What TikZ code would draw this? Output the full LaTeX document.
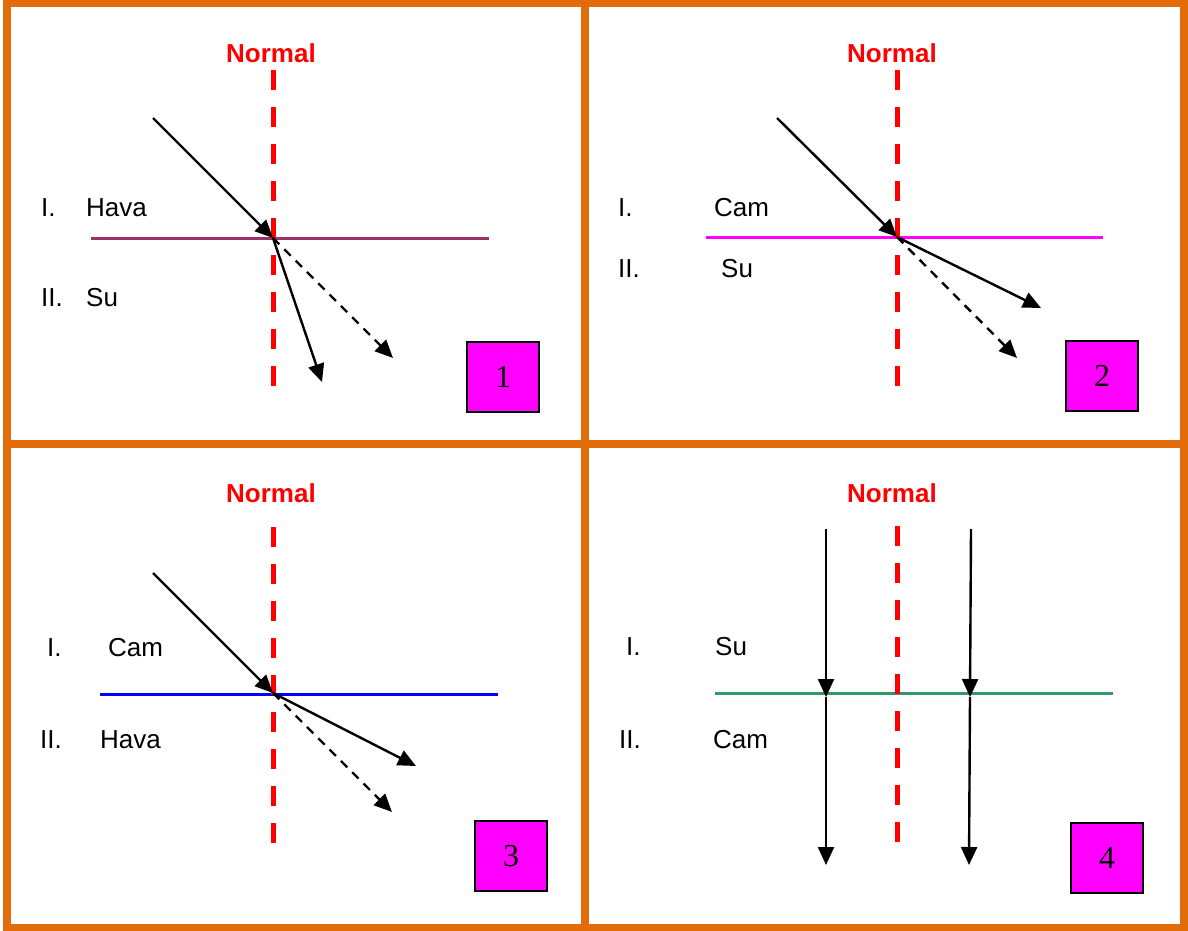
\documentclass[tikz,border=0pt]{standalone}
\usepackage{fontspec}
\setmainfont{Liberation Sans}
\newfontfamily\numfont{Liberation Serif}
\usetikzlibrary{arrows.meta}
\definecolor{frameorange}{RGB}{227,108,10}
\definecolor{boxmagenta}{RGB}{255,0,255}
\definecolor{plumline}{RGB}{153,51,102}
\definecolor{greenline}{RGB}{51,153,102}
\tikzset{
  ray/.style={line width=2.4pt,-{Triangle[length=18pt,width=16pt]}},
  dashray/.style={ray,dash pattern=on 9pt off 7pt},
  normalline/.style={red,line width=5pt,dash pattern=on 20pt off 17pt},
  normaltext/.style={red,font=\fontsize{26}{30}\selectfont\bfseries},
  mediumlabel/.style={font=\fontsize{26}{30}\selectfont,anchor=west,inner sep=0pt},
  surface/.style={line width=3pt},
  numbox/.style={draw=black,line width=2pt,fill=boxmagenta,minimum width=72pt,minimum height=70pt,inner sep=0pt,font=\numfont\fontsize{32}{36}\selectfont}
}
\begin{document}
\begin{tikzpicture}[x=1pt,y=-1pt]
    \useasboundingbox (0,0) rectangle (1188,931);
    % frame
    \draw[frameorange,line width=8pt] (7,3.5) rectangle (1184,927.5);
    \draw[frameorange,line width=8pt] (585,3.5)--(585,927.5);
    \draw[frameorange,line width=8pt] (7,443.5)--(1184,443.5);

    % 1: Hava -> Su
    \coordinate (s1l) at (91,238); \coordinate (s1r) at (489,238);
    \draw[surface,plumline] (s1l)--(s1r);
    \node[normaltext] (n1) at (271,53) {Normal};
    \coordinate (n1top) at (273,70); \coordinate (n1bot) at (273,388);
    \draw[normalline] (n1top)--(n1bot);
    \coordinate (o1) at (273,238);
    \coordinate (a1) at (153,118);
    \coordinate (b1) at (322,382);
    \coordinate (c1) at (393,358);
    \draw[ray] (a1)--(o1);
    \draw[ray] (o1)--(b1);
    \draw[dashray] (o1)--(c1);
    \node[mediumlabel] (i1) at (41,208) {I.};
    \node[mediumlabel] (m1) at (86,208) {Hava};
    \node[mediumlabel] (ii1) at (41,298) {II.};
    \node[mediumlabel] (k1) at (86,298) {Su};
    \node[numbox] (box1) at (503,377) {1};

    % 2: Cam -> Su
    \coordinate (s2l) at (706,237); \coordinate (s2r) at (1103,237);
    \draw[surface,boxmagenta] (s2l)--(s2r);
    \node[normaltext] (n2) at (892,53) {Normal};
    \coordinate (n2top) at (897,70); \coordinate (n2bot) at (897,388);
    \draw[normalline] (n2top)--(n2bot);
    \coordinate (o2) at (897,237);
    \coordinate (a2) at (777,118);
    \coordinate (b2) at (1041,308);
    \coordinate (c2) at (1017,358);
    \draw[ray] (a2)--(o2);
    \draw[ray] (o2)--(b2);
    \draw[dashray] (o2)--(c2);
    \node[mediumlabel] (i2) at (618,208) {I.};
    \node[mediumlabel] (m2) at (714,208) {Cam};
    \node[mediumlabel] (ii2) at (618,269) {II.};
    \node[mediumlabel] (k2) at (721,269) {Su};
    \node[numbox] (box2) at (1102,376) {2};

    % 3: Cam -> Hava
    \coordinate (s3l) at (100,694); \coordinate (s3r) at (498,694);
    \draw[surface,blue] (s3l)--(s3r);
    \node[normaltext] (n3) at (271,493) {Normal};
    \coordinate (n3top) at (273,527); \coordinate (n3bot) at (273,845);
    \draw[normalline] (n3top)--(n3bot);
    \coordinate (o3) at (273,693);
    \coordinate (a3) at (153,573);
    \coordinate (b3) at (416,766);
    \coordinate (c3) at (392,812);
    \draw[ray] (a3)--(o3);
    \draw[ray] (o3)--(b3);
    \draw[dashray] (o3)--(c3);
    \node[mediumlabel] (i3) at (47,648) {I.};
    \node[mediumlabel] (m3) at (108,648) {Cam};
    \node[mediumlabel] (ii3) at (40,740) {II.};
    \node[mediumlabel] (k3) at (100,740) {Hava};
    \node[numbox] (box3) at (511,856) {3};

    % 4: Su -> Cam, dik gelis
    \coordinate (s4l) at (715,693); \coordinate (s4r) at (1113,693);
    \draw[surface,greenline] (s4l)--(s4r);
    \node[normaltext] (n4) at (892,493) {Normal};
    \coordinate (n4top) at (897,526); \coordinate (n4bot) at (897,846);
    \draw[normalline] (n4top)--(n4bot);
    \coordinate (a4) at (826,529); \coordinate (o4) at (826,697); \coordinate (b4) at (826,865);
    \coordinate (a5) at (971,529); \coordinate (o5) at (970,697); \coordinate (b5) at (969,865);
    \draw[ray] (a4)--(o4);
    \draw[ray] (o4)--(b4);
    \draw[ray] (a5)--(o5);
    \draw[ray] (o5)--(b5);
    \node[mediumlabel] (i4) at (626,647) {I.};
    \node[mediumlabel] (m4) at (715,647) {Su};
    \node[mediumlabel] (ii4) at (619,740) {II.};
    \node[mediumlabel] (k4) at (713,740) {Cam};
    \node[numbox] (box4) at (1107,858) {4};
\end{tikzpicture}
\end{document}
